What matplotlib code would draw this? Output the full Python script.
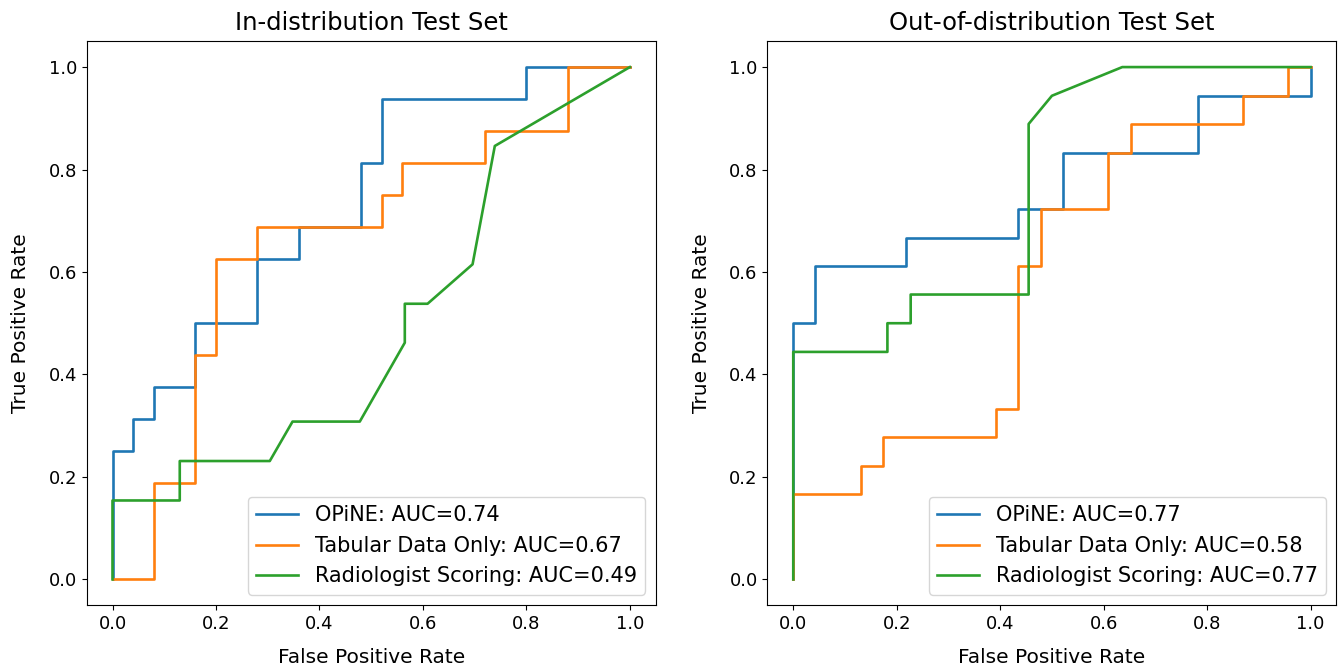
import matplotlib
matplotlib.use("Agg")
import matplotlib.pyplot as plt

# ROC points
labels = ["OPiNE", "Tabular Data Only", "Radiologist Scoring"]

id_fpr_opine = [0, 0, 0.04, 0.04, 0.08, 0.08, 0.16, 0.16, 0.28, 0.28, 0.36, 0.36,
                0.48, 0.48, 0.52, 0.52, 0.80, 0.80, 1.0]
id_tpr_opine = [0, 0.25, 0.25, 0.3125, 0.3125, 0.375, 0.375, 0.5, 0.5, 0.625, 0.625,
                0.6875, 0.6875, 0.8125, 0.8125, 0.9375, 0.9375, 1.0, 1.0]
id_fpr_tab = [0, 0.08, 0.08, 0.16, 0.16, 0.20, 0.20, 0.28, 0.28, 0.52, 0.52, 0.56,
              0.56, 0.72, 0.72, 0.88, 0.88, 1.0]
id_tpr_tab = [0, 0, 0.1875, 0.1875, 0.4375, 0.4375, 0.625, 0.625, 0.6875, 0.6875,
              0.75, 0.75, 0.8125, 0.8125, 0.875, 0.875, 1.0, 1.0]
id_fpr_rad = [0, 0, 0.130, 0.130, 0.304, 0.348, 0.478, 0.565, 0.565, 0.609, 0.696, 0.739, 1.0]
id_tpr_rad = [0, 0.154, 0.154, 0.231, 0.231, 0.308, 0.308, 0.462, 0.538, 0.538, 0.615, 0.846, 1.0]
id_auc = [0.74, 0.67, 0.49]

ood_fpr_opine = [0, 0, 0.043, 0.043, 0.217, 0.217, 0.435, 0.435, 0.522, 0.522,
                 0.783, 0.783, 1.0, 1.0]
ood_tpr_opine = [0, 0.5, 0.5, 0.611, 0.611, 0.667, 0.667, 0.722, 0.722, 0.833,
                 0.833, 0.944, 0.944, 1.0]
ood_fpr_tab = [0, 0, 0.130, 0.130, 0.174, 0.174, 0.391, 0.391, 0.435, 0.435, 0.478,
               0.478, 0.609, 0.609, 0.652, 0.652, 0.870, 0.870, 0.957, 0.957, 1.0]
ood_tpr_tab = [0, 0.167, 0.167, 0.222, 0.222, 0.278, 0.278, 0.333, 0.333, 0.611,
               0.611, 0.722, 0.722, 0.833, 0.833, 0.889, 0.889, 0.944, 0.944, 1.0, 1.0]
ood_fpr_rad = [0, 0, 0.182, 0.182, 0.227, 0.227, 0.455, 0.455, 0.5, 0.636, 1.0]
ood_tpr_rad = [0, 0.444, 0.444, 0.5, 0.5, 0.556, 0.556, 0.889, 0.944, 1.0, 1.0]
ood_auc = [0.77, 0.58, 0.77]

plt.rcParams['font.size'] = 13

fig = plt.figure(figsize=(13.39, 6.71), dpi=100)
ax_id = fig.add_axes([0.0647, 0.0984, 0.4250, 0.8398])
ax_ood = fig.add_axes([0.5731, 0.0984, 0.4250, 0.8398])

panels = [
    (ax_id, "In-distribution Test Set",
     [(id_fpr_opine, id_tpr_opine), (id_fpr_tab, id_tpr_tab), (id_fpr_rad, id_tpr_rad)], id_auc),
    (ax_ood, "Out-of-distribution Test Set",
     [(ood_fpr_opine, ood_tpr_opine), (ood_fpr_tab, ood_tpr_tab), (ood_fpr_rad, ood_tpr_rad)], ood_auc),
]

for ax, title, curves, aucs in panels:
    for i, ((fx, ty), auc) in enumerate(zip(curves, aucs)):
        ax.plot(fx, ty, color=f"C{i}", lw=1.9, label=f"{labels[i]}: AUC={auc:.2f}")
    ax.set_title(title, fontsize=17.5, pad=8)
    ax.set_xlabel("False Positive Rate", fontsize=14.5, labelpad=11)
    ax.set_ylabel("True Positive Rate", fontsize=14.5, labelpad=13)
    ax.set_xticks([0, 0.2, 0.4, 0.6, 0.8, 1.0])
    ax.set_yticks([0, 0.2, 0.4, 0.6, 0.8, 1.0])
    ax.tick_params(labelsize=13)
    ax.legend(loc="lower right", fontsize=15)

fig.savefig("out.png", dpi=100)
